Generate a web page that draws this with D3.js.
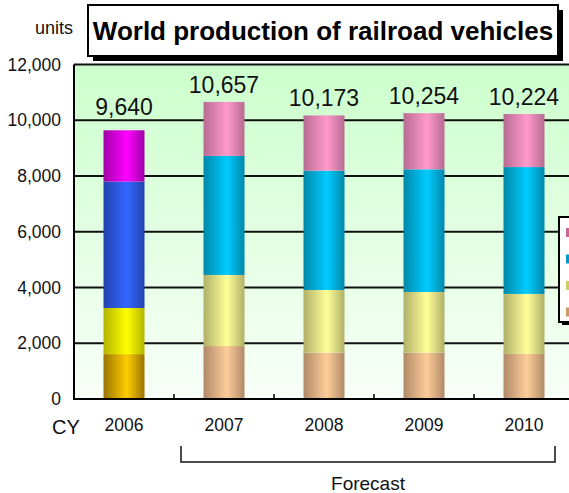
<!DOCTYPE html>
<html>
<head>
<meta charset="utf-8">
<script src="https://cdn.jsdelivr.net/npm/d3@7"></script>
<style>
  html, body { margin: 0; padding: 0; background: #fff; }
  svg { display: block; font-family: "Liberation Sans", Arial, sans-serif; }
</style>
</head>
<body>
<svg id="chart" width="569" height="493"></svg>
<script>
// Years on the category axis (2007 onward are forecasts)
const years = ["2006", "2007", "2008", "2009", "2010"];
// Stacked segments, bottom to top, units
const seg1 = [1610, 1900, 1660, 1660, 1620];
const seg2 = [1655, 2550, 2250, 2180, 2150];
const seg3 = [4535, 4270, 4280, 4400, 4550];
const seg4 = [1840, 1937, 1983, 2014, 1904];
// Totals printed above each bar
const totals = [9640, 10657, 10173, 10254, 10224];
const yTicks = [0, 2000, 4000, 6000, 8000, 10000, 12000];

// Actual-year bar uses saturated colours, forecast bars use pastel ones
const actualColors = [
  ["#9a7400", "#ffcc00"],
  ["#b4b400", "#ffff00"],
  ["#2244b0", "#3366ff"],
  ["#a000a8", "#ff00ff"]
];
const forecastColors = [
  ["#b08a68", "#ffcc99"],
  ["#b0b068", "#ffff99"],
  ["#0088aa", "#00ccff"],
  ["#b86c92", "#ff99cc"]
];

const svg = d3.select("#chart");
const W = 569, H = 493;
const plot = { left: 74, right: 574, top: 64.5, bottom: 399 };

const x = d3.scaleBand()
  .domain(years)
  .range([plot.left, plot.right])
  .paddingInner(0.59)
  .paddingOuter(0.295);

const y = d3.scaleLinear()
  .domain([0, 12000])
  .range([plot.bottom, plot.top]);

const defs = svg.append("defs");

// Plot background: pale green fading to near white
const bg = defs.append("linearGradient")
  .attr("id", "bgGrad").attr("x1", 0).attr("y1", 0).attr("x2", 0).attr("y2", 1);
bg.append("stop").attr("offset", "0%").attr("stop-color", "#ccffcc");
bg.append("stop").attr("offset", "100%").attr("stop-color", "#f8fff8");

// Cylinder-like horizontal shading for bar segments
function makeGrad(id, dark, light) {
  const g = defs.append("linearGradient")
    .attr("id", id).attr("x1", 0).attr("y1", 0).attr("x2", 1).attr("y2", 0);
  g.append("stop").attr("offset", "0%").attr("stop-color", dark);
  g.append("stop").attr("offset", "57%").attr("stop-color", light);
  g.append("stop").attr("offset", "100%").attr("stop-color", dark);
}
actualColors.forEach((c, i) => makeGrad("act" + i, c[0], c[1]));
forecastColors.forEach((c, i) => makeGrad("fc" + i, c[0], c[1]));

// Legend swatch colours
const legendColors = ["#cc6699", "#0099cc", "#cccc66", "#cc9966"];

svg.append("rect")
  .attr("x", plot.left).attr("y", plot.top)
  .attr("width", W - plot.left + 10).attr("height", plot.bottom - plot.top)
  .attr("fill", "url(#bgGrad)");

// Gridlines
const gridVals = yTicks.filter(d => d > 0);
svg.append("g")
  .selectAll("line")
  .data(gridVals)
  .join("line")
  .attr("x1", plot.left).attr("x2", W + 10)
  .attr("y1", d => y(d)).attr("y2", d => y(d))
  .attr("stroke", "#111").attr("stroke-width", 2);

// Stacked bars
const segs = [seg1, seg2, seg3, seg4];
const stackData = years.map((yr, i) => {
  const o = { year: yr };
  segs.forEach((s, k) => o["s" + k] = s[i]);
  return o;
});
const stack = d3.stack().keys(["s0", "s1", "s2", "s3"])(stackData);

svg.append("g")
  .selectAll("g")
  .data(stack)
  .join("g")
  .each(function(layer, k) {
    d3.select(this).selectAll("rect")
      .data(layer)
      .join("rect")
      .attr("x", d => x(d.data.year))
      .attr("width", x.bandwidth())
      .attr("y", d => y(d[1]))
      .attr("height", d => y(d[0]) - y(d[1]))
      .attr("fill", (d, i) => i === 0 ? `url(#act${k})` : `url(#fc${k})`);
  });

// Axes lines
svg.append("line")
  .attr("x1", plot.left).attr("x2", plot.left)
  .attr("y1", plot.top).attr("y2", plot.bottom + 1)
  .attr("stroke", "#000").attr("stroke-width", 2);
svg.append("line")
  .attr("x1", plot.left - 1).attr("x2", W + 10)
  .attr("y1", plot.bottom).attr("y2", plot.bottom)
  .attr("stroke", "#000").attr("stroke-width", 2);

// Category boundary ticks pointing up into the plot
const step = x.step();
svg.append("g")
  .selectAll("line")
  .data(years.slice(1))
  .join("line")
  .attr("x1", d => x(d) - (step - x.bandwidth()) / 2)
  .attr("x2", d => x(d) - (step - x.bandwidth()) / 2)
  .attr("y1", plot.bottom).attr("y2", plot.bottom - 5)
  .attr("stroke", "#000").attr("stroke-width", 1.5);

// Y tick labels
svg.append("g")
  .selectAll("text")
  .data(yTicks)
  .join("text")
  .attr("x", 61)
  .attr("y", d => y(d) + 6)
  .attr("text-anchor", "end")
  .attr("font-size", 17.5)
  .attr("fill", "#111")
  .text(d => d3.format(",")(d));

// Year labels
svg.append("g")
  .selectAll("text")
  .data(years)
  .join("text")
  .attr("x", d => x(d) + x.bandwidth() / 2)
  .attr("y", 431)
  .attr("text-anchor", "middle")
  .attr("font-size", 17.5)
  .attr("fill", "#111")
  .text(d => d);

svg.append("text")
  .attr("x", 66).attr("y", 434)
  .attr("text-anchor", "middle")
  .attr("font-size", 20)
  .attr("fill", "#111")
  .text("CY");

// Totals above bars; a label that would sit on a gridline is lifted clear of it
function labelBaseline(v) {
  let b = y(v) - 9;
  const capTop = b - 16.5;
  gridVals.forEach(g => {
    const gy = y(g);
    if (gy > capTop - 2 && gy < b + 4) b = gy - 5;
  });
  return b;
}
svg.append("g")
  .selectAll("text")
  .data(totals)
  .join("text")
  .attr("x", (d, i) => x(years[i]) + x.bandwidth() / 2)
  .attr("y", d => labelBaseline(d))
  .attr("text-anchor", "middle")
  .attr("font-size", 23)
  .attr("fill", "#111")
  .text(d => d3.format(",")(d));

// Forecast bracket
const bx1 = 181, bx2 = 555, bTop = 446, bBot = 462;
svg.append("path")
  .attr("d", `M${bx1},${bTop}V${bBot}H${bx2}V${bTop}`)
  .attr("fill", "none").attr("stroke", "#111").attr("stroke-width", 1.5);
svg.append("text")
  .attr("x", (bx1 + bx2) / 2).attr("y", 490)
  .attr("text-anchor", "middle")
  .attr("font-size", 19)
  .attr("fill", "#111")
  .text("Forecast");

// Units label
svg.append("text")
  .attr("x", 54).attr("y", 34)
  .attr("text-anchor", "middle")
  .attr("font-size", 18)
  .attr("fill", "#111")
  .text("units");

// Title box with drop shadow
svg.append("rect")
  .attr("x", 93).attr("y", 10).attr("width", 470).attr("height", 51)
  .attr("fill", "#000");
svg.append("rect")
  .attr("x", 88).attr("y", 5).attr("width", 470).attr("height", 51)
  .attr("fill", "#fff").attr("stroke", "#000").attr("stroke-width", 2);
svg.append("text")
  .attr("x", 323).attr("y", 40)
  .attr("text-anchor", "middle")
  .attr("font-size", 26)
  .attr("font-weight", "bold")
  .attr("fill", "#000")
  .text("World production of railroad vehicles");

// Legend box (extends past the right edge)
svg.append("rect")
  .attr("x", 562).attr("y", 220).attr("width", 60).attr("height", 105)
  .attr("fill", "#000");
svg.append("rect")
  .attr("x", 559).attr("y", 217).attr("width", 60).attr("height", 105)
  .attr("fill", "#fff").attr("stroke", "#000").attr("stroke-width", 2);
svg.append("g")
  .selectAll("rect")
  .data(legendColors)
  .join("rect")
  .attr("x", 566)
  .attr("y", (d, i) => 228 + i * 26.5)
  .attr("width", 8).attr("height", 9)
  .attr("fill", d => d);
</script>
</body>
</html>
